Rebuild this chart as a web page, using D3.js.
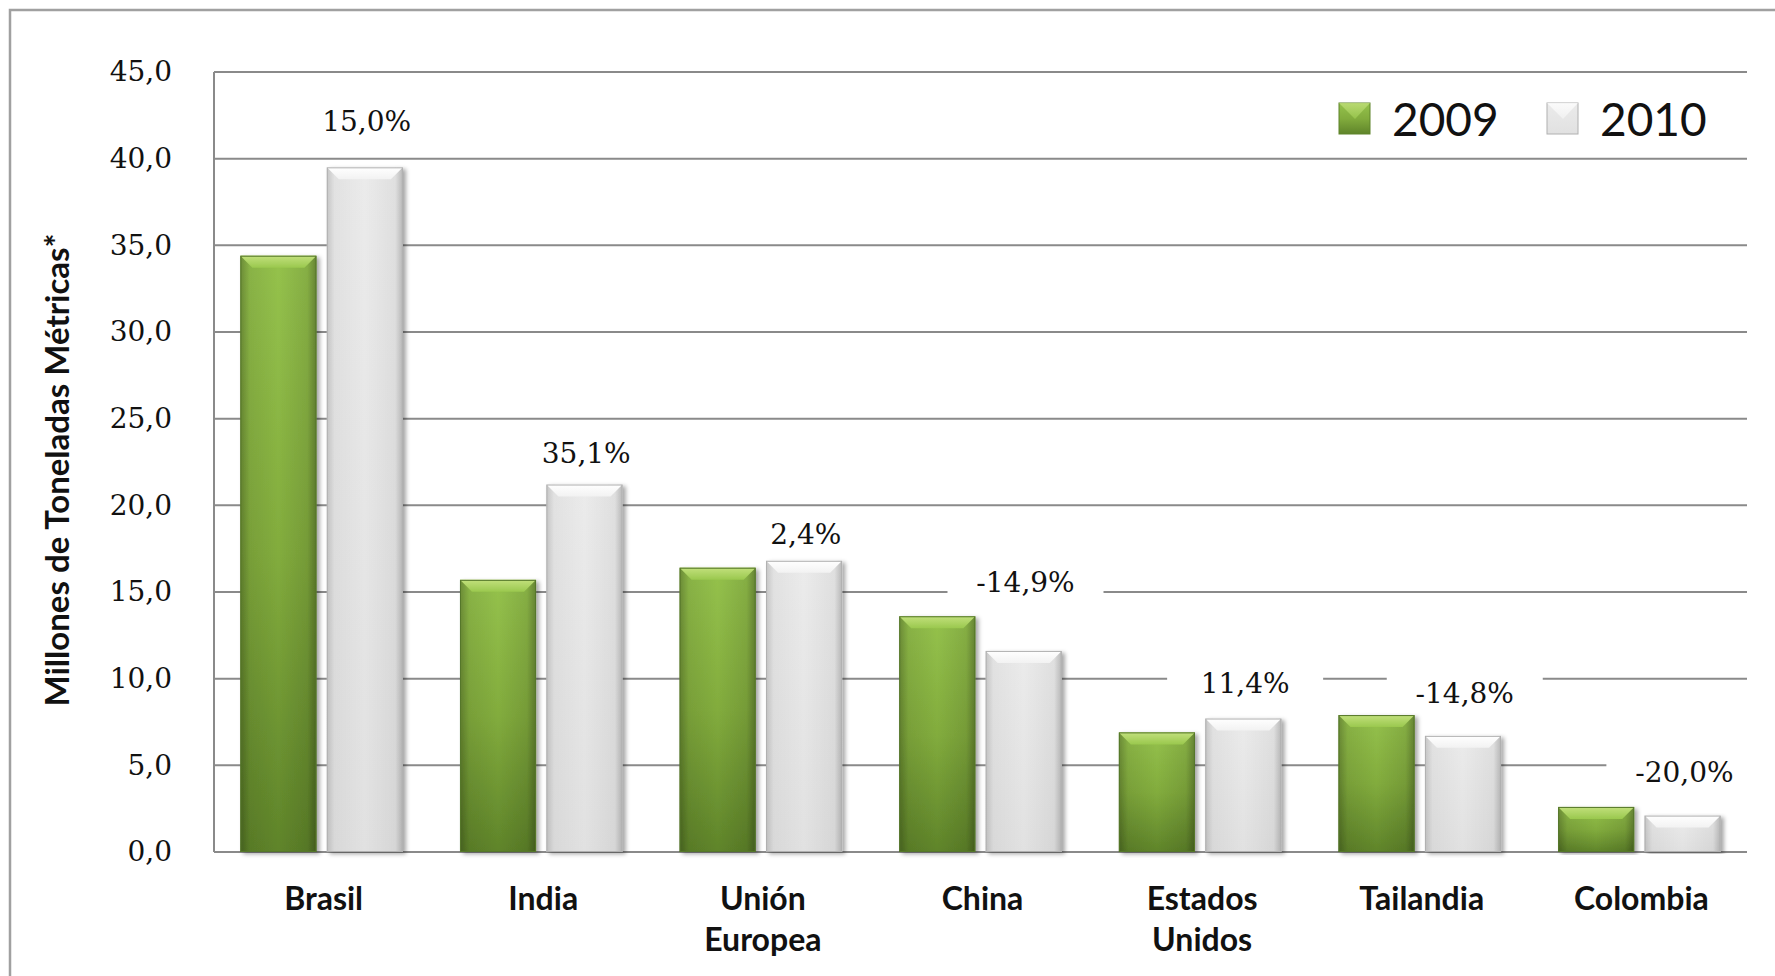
<!DOCTYPE html>
<html>
<head>
<meta charset="utf-8">
<script src="https://cdn.jsdelivr.net/npm/d3@7"></script>
<style>
  body { margin:0; background:#fff; }
  svg { display:block; }
</style>
</head>
<body>
<script>
// datos (millones de toneladas)
var paises = ['Brasil','India','Unión Europea','China','Estados Unidos','Tailandia','Colombia'];
var anios = ['2009','2010'];
var v2009 = [34.4, 15.7, 16.4, 13.6, 6.9, 7.9, 2.6];
var v2010 = [39.5, 21.2, 16.8, 11.6, 7.7, 6.7, 2.1];
var variacion = ['15,0%','35,1%','2,4%','-14,9%','11,4%','-14,8%','-20,0%'];
// altura (en unidades del eje) donde quedaron las etiquetas de variacion
var nivelEtiqueta = [42.2, 23.0, 18.35, 15.6, 9.75, 9.2, 4.6];
var ticks = [0,5,10,15,20,25,30,35,40,45];

var W = 1775, H = 976;
var m = {left:214, right:1747, top:72, bottom:852};

var svg = d3.select('body').append('svg').attr('width',W).attr('height',H);
var defs = svg.append('defs');

// gradientes de las barras
function grad(id, x2, y2, stops){
  var g = defs.append('linearGradient').attr('id',id)
    .attr('x1',0).attr('y1',0).attr('x2',x2).attr('y2',y2);
  stops.forEach(function(s){
    g.append('stop').attr('offset',s[0]).attr('stop-color',s[1]).attr('stop-opacity',s[2]==null?1:s[2]);
  });
}
grad('verdeV',0,1,[[0,'#95c24c'],[0.5,'#82ac3d'],[1,'#5f842a']]);
grad('grisV',0,1,[[0,'#ebebeb'],[1,'#e1e1e1']]);
grad('lados',1,0,[[0,'#000',0.28],[0.12,'#000',0.08],[0.5,'#000',0],[0.88,'#000',0.1],[1,'#000',0.32]]);
grad('ladosGris',1,0,[[0,'#000',0.16],[0.1,'#000',0.04],[0.5,'#000',0],[0.9,'#000',0.05],[1,'#000',0.22]]);
grad('tapaVerde',0,1,[[0,'#c2e07c'],[1,'#9ac84e']]);
grad('tapaGris',0,1,[[0,'#ffffff'],[1,'#f2f2f2']]);

var f = defs.append('filter').attr('id','sombra').attr('x','-20%').attr('y','-5%').attr('width','140%').attr('height','110%');
f.append('feDropShadow').attr('dx',3).attr('dy',2).attr('stdDeviation',2.2)
  .attr('flood-color','#000').attr('flood-opacity',0.35);

// marco exterior
svg.append('rect').attr('x',10).attr('y',10).attr('width',W+20).attr('height',H+20)
  .attr('fill','#fff').attr('stroke','#a0a0a0').attr('stroke-width',2.5);

var x0 = d3.scaleBand().domain(paises).range([m.left, m.right]).paddingInner(0.26).paddingOuter(0.12);
var x1 = d3.scaleBand().domain(anios).range([0, x0.bandwidth()]).paddingInner(0.12);
var y = d3.scaleLinear().domain([0,45]).range([m.bottom, m.top]);

var fmt = function(d){ return d3.format('.1f')(d).replace('.',','); };

// lineas de division
svg.append('g').selectAll('line').data(ticks).enter().append('line')
  .attr('x1',m.left).attr('x2',m.right)
  .attr('y1',function(d){return y(d);}).attr('y2',function(d){return y(d);})
  .attr('stroke','#8a8a8a').attr('stroke-width',2);
svg.append('line').attr('x1',m.left).attr('x2',m.left).attr('y1',m.top).attr('y2',m.bottom)
  .attr('stroke','#8a8a8a').attr('stroke-width',2);

// eje y
var ejeY = svg.append('g').attr('transform','translate('+(m.left-42)+',0)')
  .call(d3.axisLeft(y).tickValues(ticks).tickFormat(fmt).tickSize(0).tickPadding(0));
ejeY.select('.domain').remove();
ejeY.selectAll('text').attr('font-family','DejaVu Serif').attr('font-size',28).attr('fill','#111');

svg.append('text').attr('transform','translate(69,470) rotate(-90)')
  .attr('text-anchor','middle').attr('font-family','Lato').attr('font-weight',700)
  .attr('font-size',33).attr('fill','#111').text('Millones de Toneladas Métricas*');

// barras
var datos = paises.map(function(p,i){
  return {pais:p, vals:[{anio:'2009', v:v2009[i]},{anio:'2010', v:v2010[i]}]};
});
var grupos = svg.append('g').selectAll('g').data(datos).enter().append('g')
  .attr('transform',function(d){return 'translate('+x0(d.pais)+',0)';});

var barras = grupos.selectAll('g').data(function(d){return d.vals;}).enter().append('g')
  .attr('filter','url(#sombra)');
var bw = x1.bandwidth();
barras.append('rect')
  .attr('x',function(d){return x1(d.anio);}).attr('y',function(d){return y(d.v);})
  .attr('width',bw).attr('height',function(d){return y(0)-y(d.v);})
  .attr('fill',function(d){return d.anio=='2009'?'url(#verdeV)':'url(#grisV)';});
barras.append('rect')
  .attr('x',function(d){return x1(d.anio);}).attr('y',function(d){return y(d.v);})
  .attr('width',bw).attr('height',function(d){return y(0)-y(d.v);})
  .attr('fill',function(d){return d.anio=='2009'?'url(#lados)':'url(#ladosGris)';});
barras.append('polygon')
  .attr('points',function(d){
    var a = x1(d.anio), t = y(d.v), b = Math.min(12, (y(0)-t)/2);
    return [[a,t],[a+bw,t],[a+bw-b,t+b],[a+b,t+b]].join(' ');
  })
  .attr('fill',function(d){return d.anio=='2009'?'url(#tapaVerde)':'url(#tapaGris)';});
barras.append('rect')
  .attr('x',function(d){return x1(d.anio)+0.5;}).attr('y',function(d){return y(d.v)+0.5;})
  .attr('width',bw-1).attr('height',function(d){return y(0)-y(d.v)-1;})
  .attr('fill','none')
  .attr('stroke',function(d){return d.anio=='2009'?'#55772a':'#b0b0b0';}).attr('stroke-width',1);

// etiquetas de variacion con fondo blanco
var et = svg.append('g').selectAll('g').data(paises).enter().append('g')
  .attr('transform',function(d,i){return 'translate('+(x0(d)+x0.bandwidth()/2+45)+','+y(nivelEtiqueta[i])+')';});
et.append('rect').attr('x',-78).attr('y',-20).attr('width',156).attr('height',40).attr('fill','#fff');
et.append('text').attr('text-anchor','middle').attr('dy','0.36em')
  .attr('font-family','DejaVu Serif').attr('font-size',28).attr('fill','#111')
  .text(function(d,i){return variacion[i];});

// categorias
var cat = svg.append('g').selectAll('text').data(paises).enter().append('text')
  .attr('x',function(d){return x0(d)+x0.bandwidth()/2+2;}).attr('y',910)
  .attr('text-anchor','middle').attr('font-family','Lato').attr('font-weight',700)
  .attr('font-size',32).attr('fill','#111');
cat.each(function(d){
  var partes = d.indexOf(' ')>0 ? d.split(' ') : [d];
  var t = d3.select(this);
  partes.forEach(function(p,j){
    t.append('tspan').attr('x',t.attr('x')).attr('dy',j==0?0:41).text(p);
  });
});

// leyenda
var ley = svg.append('g');
var items = [{anio:'2009', x:1339, c:'url(#verdeV)', tapa:'url(#tapaVerde)'},{anio:'2010', x:1547, c:'url(#grisV)', tapa:'url(#tapaGris)'}];
items.forEach(function(it){
  ley.append('rect').attr('x',it.x).attr('y',103).attr('width',31).attr('height',31).attr('fill',it.c)
    .attr('stroke',it.anio=='2009'?'#5f842a':'#b0b0b0');
  ley.append('polygon').attr('points',[[it.x,103],[it.x+31,103],[it.x+16,119]].join(' ')).attr('fill',it.tapa).attr('opacity',0.8);
  ley.append('text').attr('x',it.x+53).attr('y',136).attr('font-family','Lato')
    .attr('font-size',46).attr('fill','#111').text(it.anio);
});
</script>
</body>
</html>
